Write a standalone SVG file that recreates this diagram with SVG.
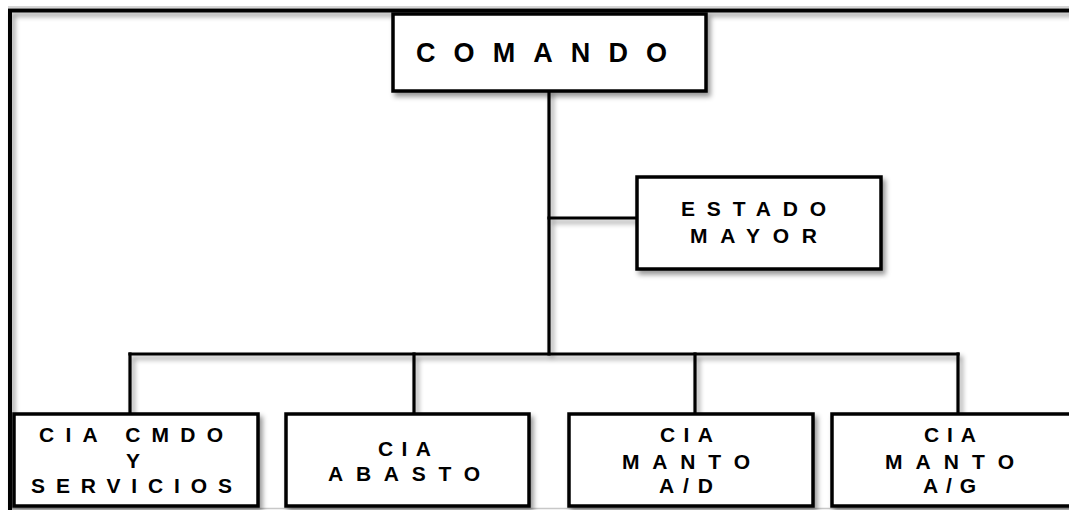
<svg xmlns="http://www.w3.org/2000/svg" width="1069" height="510" viewBox="0 0 1069 510">
<style>
.box{fill:#fff;stroke:#000;stroke-width:3.5}
.ln{fill:none;stroke:#000;stroke-width:3.2;stroke-linecap:square}
.t{font-family:"Liberation Sans",Arial,sans-serif;font-weight:bold;fill:#000}
.big{font-size:27px}
.sm{font-size:21px}
</style>
<defs>
<filter id="sh" x="-10%" y="-10%" width="130%" height="130%">
<feDropShadow dx="3" dy="4" stdDeviation="2.5" flood-color="#000" flood-opacity="0.4"/>
</filter>
</defs>
<rect width="1069" height="510" fill="#fff"/>
<g id="frame">
<line x1="8" y1="7" x2="1069" y2="7" stroke="#c8c8c8" stroke-width="1.5"/>
<line x1="10" y1="508.5" x2="1069" y2="508.5" stroke="#c8c8c8" stroke-width="1.5"/>
<path d="M10,512 V10.5 H1072" fill="none" stroke="#000" stroke-width="4" filter="url(#sh)"/>
</g>
<g id="connectors" filter="url(#sh)">
<line class="ln" x1="549" y1="91" x2="549" y2="354"/>
<line class="ln" x1="549" y1="218" x2="636" y2="218"/>
<line class="ln" x1="130" y1="354" x2="958" y2="354"/>
<line class="ln" x1="130" y1="354" x2="130" y2="413"/>
<line class="ln" x1="414" y1="354" x2="414" y2="413"/>
<line class="ln" x1="695" y1="354" x2="695" y2="413"/>
<line class="ln" x1="958" y1="354" x2="958" y2="413"/>
</g>
<g id="comando">
<rect class="box" x="393" y="14" width="313" height="77" filter="url(#sh)"/>
<text class="t big" x="416" y="62" textLength="251" lengthAdjust="spacing">COMANDO</text>
</g>
<g id="estado-mayor">
<rect class="box" x="637" y="177" width="244" height="92" filter="url(#sh)"/>
<text class="t sm" x="681" y="216" textLength="145" lengthAdjust="spacing">ESTADO</text>
<text class="t sm" x="690" y="243" textLength="127" lengthAdjust="spacing">MAYOR</text>
</g>
<g id="cia-cmdo">
<rect class="box" x="14" y="414" width="244" height="92" filter="url(#sh)"/>
<text class="t sm" x="39" y="442" textLength="184" lengthAdjust="spacing">CIA  CMDO</text>
<text class="t sm" x="133" y="468" text-anchor="middle">Y</text>
<text class="t sm" x="31" y="493" textLength="201" lengthAdjust="spacing">SERVICIOS</text>
</g>
<g id="cia-abasto">
<rect class="box" x="286" y="414" width="243" height="92" filter="url(#sh)"/>
<text class="t sm" x="378" y="456" textLength="53" lengthAdjust="spacing">CIA</text>
<text class="t sm" x="328" y="481" textLength="152" lengthAdjust="spacing">ABASTO</text>
</g>
<g id="cia-manto-ad">
<rect class="box" x="569" y="414" width="244" height="92" filter="url(#sh)"/>
<text class="t sm" x="660" y="442" textLength="53" lengthAdjust="spacing">CIA</text>
<text class="t sm" x="622" y="469" textLength="128" lengthAdjust="spacing">MANTO</text>
<text class="t sm" x="659" y="493" textLength="54" lengthAdjust="spacing">A/D</text>
</g>
<g id="cia-manto-ag">
<rect class="box" x="832" y="414" width="245" height="92" filter="url(#sh)"/>
<text class="t sm" x="924" y="442" textLength="52" lengthAdjust="spacing">CIA</text>
<text class="t sm" x="885" y="469" textLength="129" lengthAdjust="spacing">MANTO</text>
<text class="t sm" x="923" y="493" textLength="53" lengthAdjust="spacing">A/G</text>
</g>
</svg>
